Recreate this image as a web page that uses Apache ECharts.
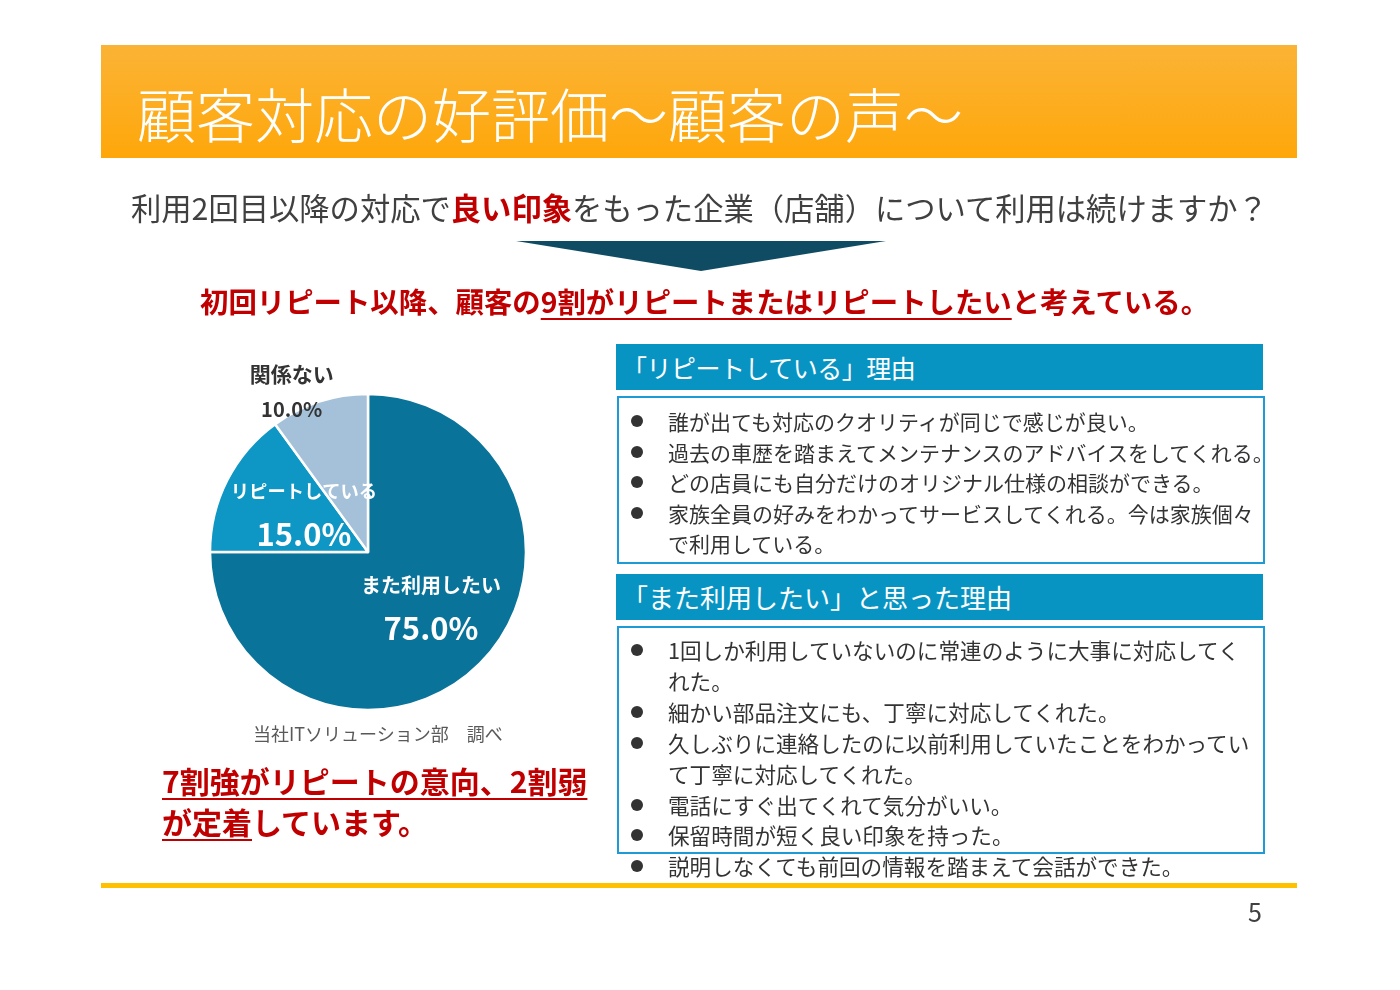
<!DOCTYPE html>
<html lang="ja">
<head>
<meta charset="utf-8">
<title>顧客対応の好評価～顧客の声～</title>
<script src="https://cdn.jsdelivr.net/npm/echarts@6/dist/echarts.min.js"></script>
<style>
  html, body { margin: 0; padding: 0; background: #fff; }
  body { width: 1400px; height: 990px; position: relative; overflow: hidden;
    font-family: "Noto Sans CJK JP", "Noto Sans", sans-serif; color: #333; }
  #chart { position: absolute; left: 0; top: 0; width: 1400px; height: 990px; z-index: 0; }
  .abs { position: absolute; z-index: 1; white-space: nowrap; }
  .header { left: 101px; top: 45px; width: 1196px; height: 113px;
    background: linear-gradient(#fbb336, #fea70a); }
  .title { left: 137px; top: 78px; font-size: 59px; line-height: 70px; color: #fff; font-weight: 300; }
  .question { left: 131px; top: 187px; font-size: 30.3px; line-height: 40px; color: #404040; }
  .question b, .red { color: #c00000; font-weight: bold; }
  .arrow { left: 516px; top: 241px; width: 370px; height: 30px; background: #0f4c63;
    clip-path: polygon(0 0, 100% 0, 50% 100%); }
  .headline { left: 200px; top: 281px; font-size: 28.4px; line-height: 40px; }
  .ul { text-decoration: underline; text-decoration-thickness: 2px; text-underline-offset: 5px; }
  .source { left: 253px; top: 721px; font-size: 18px; line-height: 24px; color: #595959; }
  .summary { left: 162px; top: 760px; font-size: 30px; line-height: 41px; }
  .boxhead { left: 616px; width: 647px; height: 46px; background: #0894c3; color: #fff;
    font-size: 26px; line-height: 46px; }
  .boxhead span { margin-left: 6px; }
  .boxbody { left: 617px; width: 644px; border: 2px solid #1e9bd7; }
  .list { left: 617px; color: #333; }
  .item { position: relative; padding-left: 51px; }
  .item::before { content: ''; position: absolute; left: 14px; top: 9px; width: 12px; height: 12px;
    border-radius: 50%; background: #333; }
  .bottomline { left: 101px; top: 883px; width: 1196px; height: 5px; background: #ffc000; }
  .page { left: 1248px; top: 895px; font-size: 25px; line-height: 32px; color: #404040; }
</style>
</head>
<body>
<div id="chart"></div>

<div class="abs header"></div>
<div class="abs title">顧客対応の好評価～顧客の声～</div>
<div class="abs question">利用2回目以降の対応で<b>良い印象</b>をもった企業（店舗）について利用は続けますか？</div>
<div class="abs arrow"></div>
<div class="abs headline red">初回リピート以降、顧客の<span class="ul">9割がリピートまたはリピートしたい</span>と考えている。</div>

<div class="abs source">当社ITソリューション部　調べ</div>
<div class="abs summary red"><span class="ul">7割強がリピートの意向、2割弱</span><br><span class="ul">が定着</span>しています。</div>

<div class="abs boxhead" style="top:344px"><span style="font-size:25px; letter-spacing:-0.5px">「リピートしている」理由</span></div>
<div class="abs boxbody" style="top:396px; height:164px"></div>
<div class="abs list" id="repeatList" style="top:406px; line-height:30.5px; font-size:21px"></div>

<div class="abs boxhead" style="top:574px"><span>「また利用したい」と思った理由</span></div>
<div class="abs boxbody" style="top:626px; height:224px"></div>
<div class="abs list" id="againList" style="top:635px; line-height:30.9px; font-size:21.6px"></div>

<div class="abs bottomline"></div>
<div class="abs page">5</div>

<script>
// survey result (pie)
const sliceNames = ['また利用したい', 'リピートしている', '関係ない'];
const sliceValues = [75, 15, 10];

// free answers, '\n' = line break as on the slide
const repeatReasons = [
  '誰が出ても対応のクオリティが同じで感じが良い。',
  '過去の車歴を踏まえてメンテナンスのアドバイスをしてくれる。',
  'どの店員にも自分だけのオリジナル仕様の相談ができる。',
  '家族全員の好みをわかってサービスしてくれる。今は家族個々\nで利用している。'
];
const againReasons = [
  '1回しか利用していないのに常連のように大事に対応してく\nれた。',
  '細かい部品注文にも、丁寧に対応してくれた。',
  '久しぶりに連絡したのに以前利用していたことをわかってい\nて丁寧に対応してくれた。',
  '電話にすぐ出てくれて気分がいい。',
  '保留時間が短く良い印象を持った。',
  '説明しなくても前回の情報を踏まえて会話ができた。'
];

const sliceColors = ['#0a7399', '#0e96c4', '#a4c1d9'];
const labelShift = [[5, -3], [9, -2], [-51, -82]];
const nameSize = [20, 18.3, 21];
const pctSize = [31, 31, 20];

function fillList(id, lines) {
  const box = document.getElementById(id);
  lines.forEach((text) => {
    const div = document.createElement('div');
    div.className = 'item';
    div.innerHTML = text.split('\n').join('<br>');
    box.appendChild(div);
  });
}
fillList('repeatList', repeatReasons);
fillList('againList', againReasons);

const chart = echarts.init(document.getElementById('chart'));

const pieData = sliceNames.map((name, i) => {
  const dark = i === 2;
  const col = dark ? '#333' : '#fff';
  return {
    name,
    value: sliceValues[i],
    itemStyle: { color: sliceColors[i] },
    label: {
      color: col,
      rich: {
        n: { fontSize: nameSize[i], fontWeight: 'bold', color: col, lineHeight: dark ? 35 : 43 },
        p: { fontSize: pctSize[i], fontWeight: 'bold', color: col, lineHeight: dark ? 35 : 43 }
      }
    }
  };
});

chart.setOption({
  animation: false,
  series: [
    {
      type: 'pie',
      center: [368, 552],
      radius: 158,
      startAngle: 90,
      clockwise: true,
      percentPrecision: 1,
      itemStyle: { borderColor: '#fff', borderWidth: 2.5 },
      label: {
        show: true,
        position: 'inside',
        fontFamily: '"Noto Sans CJK JP", sans-serif',
        formatter: params => `{n|${params.name}}\n{p|${params.percent.toFixed(1)}%}`
      },
      labelLine: { show: false },
      labelLayout: params => ({ dx: labelShift[params.dataIndex][0], dy: labelShift[params.dataIndex][1] }),
      emphasis: { disabled: true },
      data: pieData
    }
  ]
});
</script>
</body>
</html>
